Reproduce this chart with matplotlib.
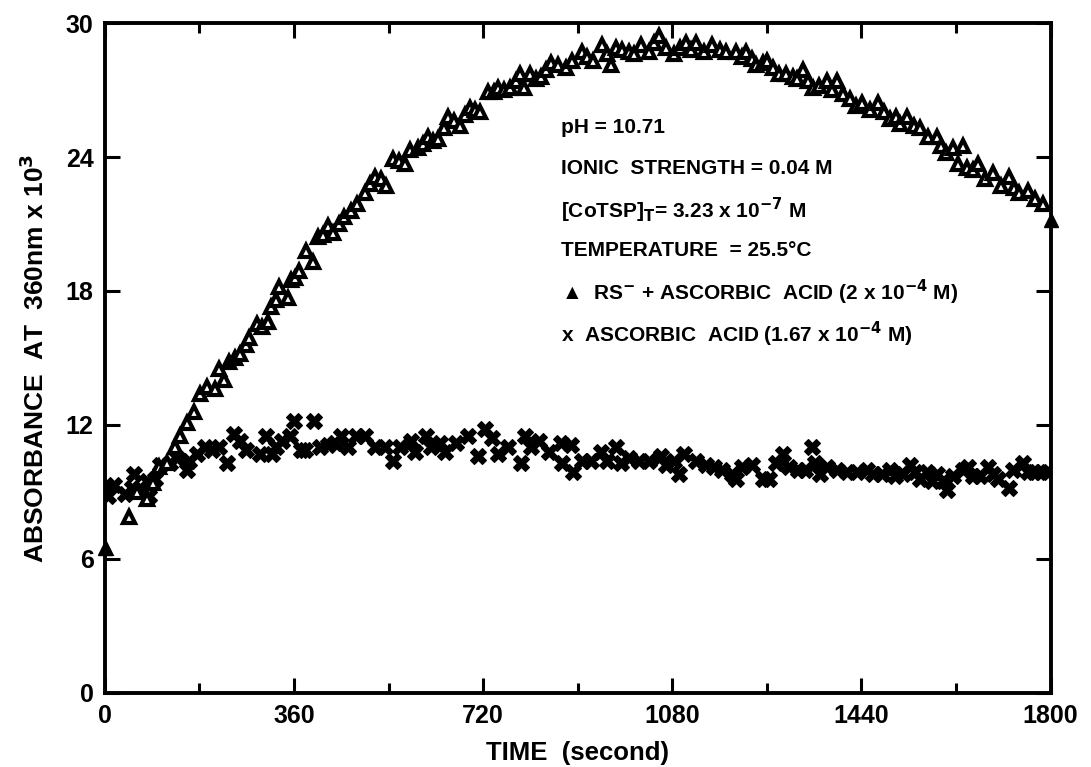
import numpy as np
import matplotlib
matplotlib.use("Agg")
import matplotlib.pyplot as plt
from matplotlib.ticker import MultipleLocator

plt.rcParams['font.family'] = ['Liberation Sans', 'DejaVu Sans']
plt.rcParams['font.weight'] = 'bold'
plt.rcParams['mathtext.default'] = 'bf'

# RS- + ascorbic acid (triangles)
tri_t = [0, 46, 61, 80, 92, 103, 118, 134, 144, 157, 170, 182, 195, 210, 218,
         227, 237, 248, 258, 268, 275, 290, 300, 310, 316, 325, 332, 348, 354,
         362, 370, 383, 396, 405, 415, 424, 434, 445, 456, 468, 480, 495, 505,
         514, 525, 535, 548, 560, 571, 581, 596, 605, 615, 625, 634, 645, 654,
         665, 676, 685, 695, 705, 715, 730, 740, 749, 760, 772, 782, 791, 797,
         810, 820, 831, 840, 850, 862, 877, 890, 908, 918, 930, 946, 955, 963,
         972, 985, 997, 1008, 1020, 1036, 1045, 1055, 1068, 1083, 1095, 1106,
         1115, 1125, 1141, 1156, 1170, 1183, 1202, 1212, 1221, 1232, 1240, 1252,
         1261, 1272, 1284, 1296, 1309, 1318, 1328, 1338, 1347, 1360, 1374, 1383,
         1393, 1405, 1418, 1430, 1441, 1456, 1471, 1482, 1494, 1505, 1513, 1527,
         1540, 1552, 1567, 1584, 1592, 1600, 1615, 1624, 1634, 1641, 1652, 1661,
         1676, 1691, 1705, 1720, 1730, 1739, 1756, 1771, 1785]
tri_v = [6.5, 7.9, 9.0, 8.7, 9.4, 10.1, 10.3, 11.0, 11.5, 12.1, 12.6, 13.4, 13.7,
         13.6, 14.5, 14.0, 14.8, 15.0, 15.2, 15.6, 15.9, 16.5, 16.4, 16.6, 17.3,
         17.6, 18.2, 17.7, 18.5, 18.6, 18.9, 19.8, 19.3, 20.4, 20.5, 20.9, 20.6,
         21.0, 21.3, 21.6, 21.9, 22.4, 22.8, 23.1, 23.0, 22.7, 23.9, 23.8, 23.7,
         24.3, 24.4, 24.6, 24.9, 24.7, 24.8, 25.3, 25.8, 25.6, 25.4, 25.9, 26.2,
         26.1, 26.0, 26.9, 26.9, 27.1, 27.0, 27.1, 27.4, 27.7, 27.1, 27.7, 27.5,
         27.6, 27.9, 28.2, 28.1, 28.0, 28.3, 28.7, 28.5, 28.3, 29.0, 28.6, 28.1,
         28.9, 28.8, 28.7, 28.6, 29.0, 28.7, 29.1, 29.4, 28.9, 28.6, 28.9, 29.1,
         28.8, 29.1, 28.7, 29.0, 28.8, 28.7, 28.7, 28.5, 28.7, 28.4, 28.1, 28.2,
         28.3, 28.0, 27.7, 27.7, 27.6, 27.5, 27.9, 27.4, 27.1, 27.2, 27.4, 27.0,
         27.4, 26.8, 26.6, 26.3, 26.4, 26.1, 26.4, 26.0, 25.7, 25.8, 25.5, 25.8,
         25.4, 25.3, 24.9, 24.9, 24.5, 24.2, 24.4, 23.7, 24.5, 23.5, 23.4, 23.7,
         23.0, 23.3, 22.7, 23.1, 22.6, 22.4, 22.5, 22.1, 21.9]
tri_end_t = [0, 1800]
tri_end_v = [6.5, 21.2]

# ascorbic acid alone (crosses)
x_t = [0, 7, 17, 38, 52, 55, 67, 80, 84, 96, 105, 124, 138, 157, 160, 176, 191,
       204, 218, 233, 246, 258, 268, 296, 306, 319, 325, 338, 352, 361, 373, 382,
       399, 409, 424, 439, 449, 462, 478, 495, 514, 533, 548, 562, 583, 590, 611,
       621, 638, 647, 669, 692, 711, 724, 736, 749, 768, 793, 800, 812, 826, 845,
       868, 870, 887, 892, 908, 925, 944, 956, 973, 982, 997, 1017, 1036, 1059,
       1068, 1083, 1093, 1103, 1125, 1145, 1160, 1175, 1194, 1202, 1213, 1231,
       1252, 1265, 1278, 1290, 1303, 1319, 1332, 1345, 1351, 1361, 1374, 1393,
       1412, 1431, 1450, 1462, 1479, 1494, 1504, 1520, 1533, 1542, 1552, 1565,
       1575, 1584, 1596, 1603, 1615, 1634, 1643, 1653, 1666, 1680, 1691, 1699,
       1720, 1729, 1747, 1756, 1768, 1781, 1794]
x_v = [9.2, 8.8, 9.3, 8.9, 9.2, 9.8, 9.1, 9.5, 8.8, 9.6, 10.2, 10.3, 10.5, 10.0,
       10.4, 10.7, 11.0, 10.9, 11.0, 10.3, 11.6, 11.3, 10.9, 10.7, 11.5, 10.7,
       11.0, 11.3, 11.5, 12.2, 10.9, 10.9, 12.2, 11.0, 11.1, 11.2, 11.5, 11.0,
       11.5, 11.5, 11.0, 11.0, 10.4, 11.0, 11.3, 10.8, 11.5, 11.0, 11.2, 10.8,
       11.2, 11.5, 10.6, 11.8, 11.4, 10.7, 11.0, 10.3, 11.5, 11.0, 11.3, 10.8,
       11.2, 10.3, 11.1, 9.9, 10.4, 10.4, 10.8, 10.4, 11.0, 10.3, 10.5, 10.4,
       10.4, 10.6, 10.2, 10.4, 9.8, 10.7, 10.4, 10.2, 10.1, 10.0, 9.8, 9.6, 10.1,
       10.2, 9.6, 9.6, 10.3, 10.7, 10.1, 10.0, 10.0, 11.0, 10.3, 9.8, 10.1, 10.0,
       9.9, 9.9, 10.0, 9.8, 9.8, 10.0, 9.7, 9.8, 10.2, 9.9, 9.6, 9.9, 9.5, 9.8,
       9.5, 9.1, 9.7, 10.0, 10.1, 9.7, 9.7, 10.1, 9.8, 9.6, 9.2, 10.0, 10.3, 9.9,
       9.9, 9.9, 9.9]

xticks = [0, 360, 720, 1080, 1440, 1800]
yticks = [0, 6, 12, 18, 24, 30]

info_lines = ["pH = 10.71",
              "IONIC  STRENGTH = 0.04 M",
              r"[CoTSP]$_{T}$= 3.23 x 10$^{-7}$ M",
              "TEMPERATURE  = 25.5°C",
              "▲  RS$^{-}$ + ASCORBIC  ACID (2 x 10$^{-4}$ M)",
              r"x  ASCORBIC  ACID (1.67 x 10$^{-4}$ M)"]

fig = plt.figure(figsize=(10.91, 7.67), dpi=100)
ax = fig.add_axes([0.096, 0.0965, 0.867, 0.8735])

ax.plot(x_t, x_v, linestyle="none", marker="X", ms=11, mfc="k", mec="k", mew=0.8)
ax.plot(tri_t, tri_v, linestyle="none", marker="^", ms=9, mfc="white",
        mec="k", mew=3.0)
ax.plot(tri_end_t, tri_end_v, linestyle="none", marker="^", ms=10, color="k",
        clip_on=False)

ax.set_xlim(0, 1800)
ax.set_ylim(0, 30)
ax.set_xticks(xticks)
ax.set_yticks(yticks)
ax.xaxis.set_minor_locator(MultipleLocator(180))
ax.tick_params(which="major", direction="in", length=11, width=2.2,
               labelsize=18, top=True, right=True, pad=8)
ax.tick_params(which="minor", direction="in", length=7, width=2.2, top=True)
for lab in ax.get_xticklabels() + ax.get_yticklabels():
    lab.set_fontweight("bold")
for sp in ax.spines.values():
    sp.set_linewidth(2.8)

ax.set_xlabel("TIME  (second)", fontsize=18.5, fontweight="bold", labelpad=9)
ax.set_ylabel(r"ABSORBANCE  AT  360nm x 10$^{3}$", fontsize=19,
              fontweight="bold", labelpad=12)

ys = [25.3, 23.5, 21.6, 19.8, 17.95, 16.05]
for txt, yv in zip(info_lines, ys):
    ax.text(868, yv, txt, fontsize=15, fontweight="bold", va="center",
            ha="left")

fig.savefig("out.png", dpi=100)
